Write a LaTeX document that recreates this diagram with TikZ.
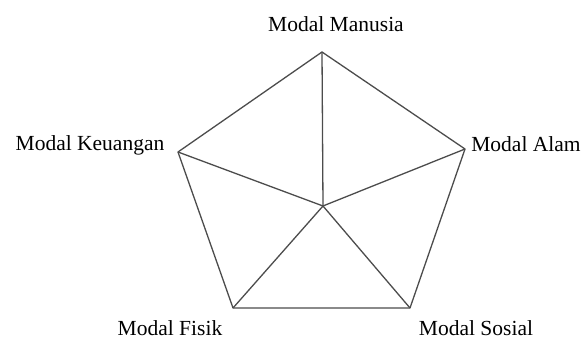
\documentclass[tikz,border=0pt]{standalone}
\usepackage{fontspec}
\setmainfont{Liberation Serif}
\begin{document}
\begin{tikzpicture}[x=1pt,y=1pt,
  edge/.style={draw=black!70,line width=1.3pt,line join=round},
  lbl/.style={inner sep=0pt,font=\fontsize{21.5}{23}\selectfont,text=black}]
\useasboundingbox (0,0) rectangle (584,340);
\coordinate (T) at (322,288);
\coordinate (R) at (465,191);
\coordinate (BR) at (410,32);
\coordinate (BL) at (233,32);
\coordinate (L) at (178,188);
\coordinate (C) at (323,134);
\draw[edge] (T) -- (R) -- (BR) -- (BL) -- (L) -- cycle;
\foreach \v in {T,R,BR,BL,L} \draw[edge] (C) -- (\v);
\node[lbl] (manusia) at (336,316) {Modal Manusia};
\node[lbl] (keuangan) at (90,195) {Modal Keuangan};
\node[lbl] (alam) at (526,196) {Modal Alam};
\node[lbl] (fisik) at (170,12) {Modal Fisik};
\node[lbl] (sosial) at (476,12) {Modal Sosial};
\end{tikzpicture}
\end{document}
